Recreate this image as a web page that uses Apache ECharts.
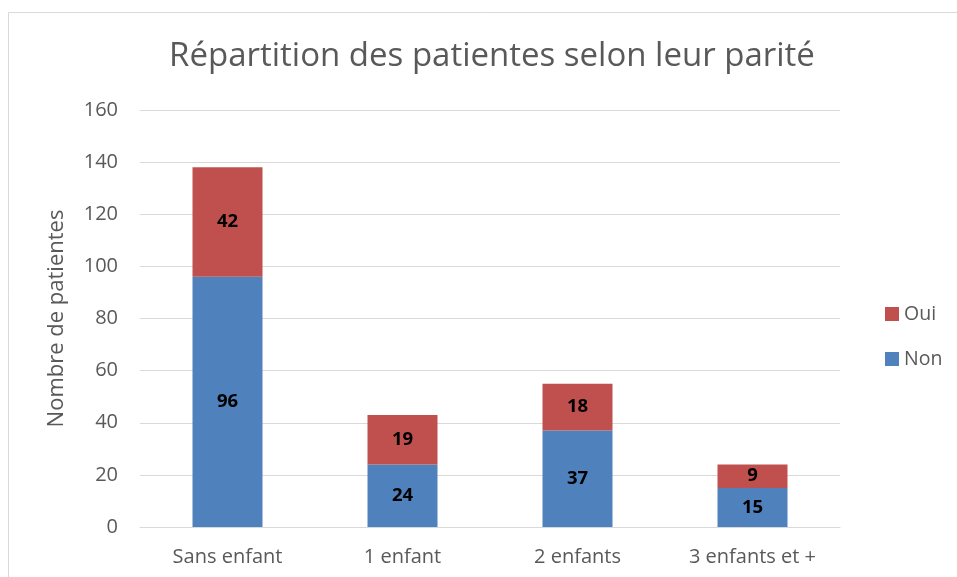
<!DOCTYPE html>
<html><head><meta charset="utf-8">
<script src="https://cdn.jsdelivr.net/npm/echarts@6/dist/echarts.min.js"></script>
<style>html,body{margin:0;padding:0;background:#fff}#c{width:957px;height:577px}</style>
</head><body><div id="c"></div>
<script>
const categories = ['Sans enfant', '1 enfant', '2 enfants', '3 enfants et +'];
const nonValues = [96, 24, 37, 15];
const ouiValues = [42, 19, 18, 9];
const yTicks = {min: 0, max: 160, interval: 20};

const chart = echarts.init(document.getElementById('c'));
const font = '"Open Sans", "Liberation Sans", sans-serif';
const lbl = {show: true, position: 'inside', color: '#000', fontWeight: 'bold', fontSize: 18.5, fontFamily: font};
chart.setOption({
  animation: false,
  title: {text: 'Répartition des patientes selon leur parité', left: 487, top: 35, textAlign: 'center',
    textStyle: {fontSize: 33, fontWeight: 'normal', color: '#595959', fontFamily: font}},
  graphic: [{type: 'rect', shape: {x: 8.5, y: 12.5, width: 1000, height: 600}, style: {fill: 'none', stroke: '#d9d9d9', lineWidth: 1}}],
  legend: {orient: 'vertical', left: 880, top: 299, itemWidth: 14, itemHeight: 14, itemGap: 25,
    data: ['Oui', 'Non'], icon: 'rect',
    textStyle: {fontSize: 19.5, color: '#595959', fontFamily: font}},
  grid: {left: 140, right: 117, top: 110, bottom: 50},
  xAxis: {type: 'category', data: categories,
    axisLine: {lineStyle: {color: '#d9d9d9', width: 1}}, axisTick: {show: false},
    axisLabel: {fontSize: 20, color: '#595959', margin: 20, fontFamily: font}},
  yAxis: {type: 'value', min: yTicks.min, max: yTicks.max, interval: yTicks.interval,
    name: 'Nombre de patientes', nameLocation: 'middle', nameGap: 72,
    nameTextStyle: {fontSize: 22, color: '#595959', fontFamily: font},
    axisLine: {show: false}, axisTick: {show: false},
    splitLine: {lineStyle: {color: '#d9d9d9', width: 1}},
    axisLabel: {fontSize: 20, color: '#595959', margin: 22, fontFamily: font}},
  series: [
    {name: 'Non', type: 'bar', stack: 's', data: nonValues, barWidth: '40%', itemStyle: {color: '#4F81BD'}, label: lbl},
    {name: 'Oui', type: 'bar', stack: 's', data: ouiValues, barWidth: '40%', itemStyle: {color: '#C0504D'}, label: lbl}
  ]
});
</script></body></html>
